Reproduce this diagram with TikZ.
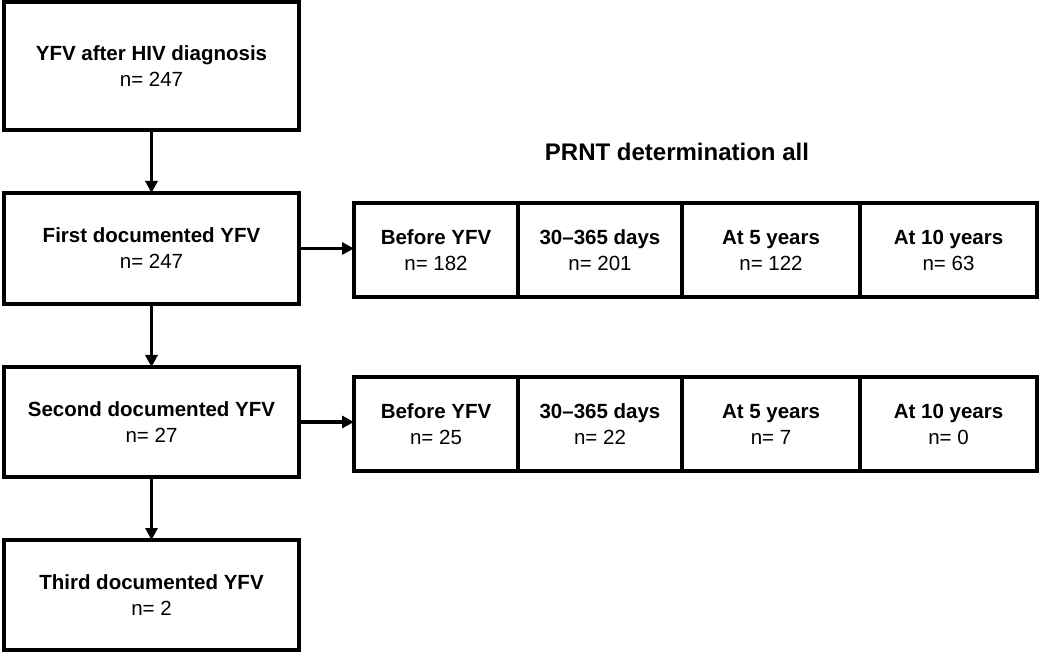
\documentclass[tikz,border=0pt]{standalone}
\usepackage{fontspec}
\setmainfont{Liberation Sans}
\usetikzlibrary{arrows.meta,positioning}

\begin{document}
\begin{tikzpicture}[x=1pt,y=-1pt,
    box/.style={draw,line width=3.2pt,minimum width=295pt,align=center,
        font=\fontsize{20.5}{26}\selectfont,inner sep=0pt,outer sep=0pt},
    cell/.style={draw,line width=3.2pt,minimum height=94pt,align=center,
        font=\fontsize{20.5}{26}\selectfont,inner sep=0pt,outer sep=0pt},
    arr/.style={line width=3.2pt,-{Triangle[length=12pt,width=12pt]}}]
    \useasboundingbox (0,0) rectangle (1039,652);
    % left column
    \node[box,minimum height=128pt] (hiv) at (151.5,66) {\textbf{YFV after HIV diagnosis}\\n= 247};
    \node[box,minimum height=111pt] (first) at (151.5,248.5) {\textbf{First documented YFV}\\n= 247};
    \node[box,minimum height=110pt] (second) at (151.5,422) {\textbf{Second documented YFV}\\n= 27};
    \node[box,minimum height=110pt] (third) at (151.5,595) {\textbf{Third documented YFV}\\n= 2};
    \draw[arr] (hiv) -- (first);
    \draw[arr] (first) -- (second);
    \draw[arr] (second) -- (third);

    \node[font=\fontsize{24}{28}\selectfont\bfseries] (title) at (677,152) {PRNT determination all};

    % first row
    \node[cell,minimum width=164pt,anchor=west] (pa1) at (354,250) {\textbf{Before YFV}\\n= 182};
    \node[cell,minimum width=164pt,right=0pt of pa1] (pa2) {\textbf{30--365 days}\\n= 201};
    \node[cell,minimum width=178pt,right=0pt of pa2] (pa3) {\textbf{At 5 years}\\n= 122};
    \node[cell,minimum width=177pt,right=0pt of pa3] (pa4) {\textbf{At 10 years}\\n= 63};
    \draw[arr] (first.east) -- (first.east -| pa1.west);

    % second row
    \node[cell,minimum width=164pt,anchor=west] (pb1) at (354,424) {\textbf{Before YFV}\\n= 25};
    \node[cell,minimum width=164pt,right=0pt of pb1] (pb2) {\textbf{30--365 days}\\n= 22};
    \node[cell,minimum width=178pt,right=0pt of pb2] (pb3) {\textbf{At 5 years}\\n= 7};
    \node[cell,minimum width=177pt,right=0pt of pb3] (pb4) {\textbf{At 10 years}\\n= 0};
    \draw[arr] (second.east) -- (second.east -| pb1.west);
\end{tikzpicture}
\end{document}
